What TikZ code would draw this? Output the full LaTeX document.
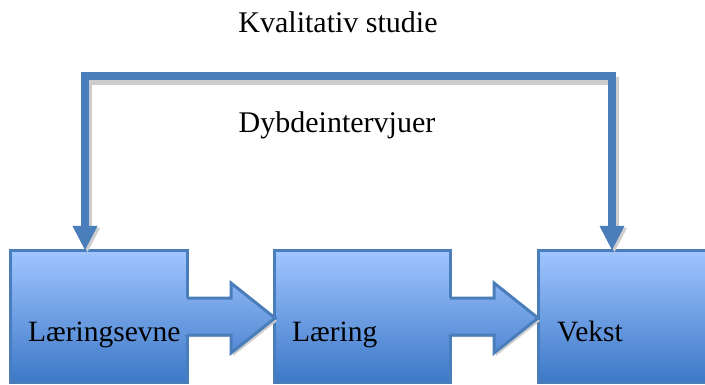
\documentclass[tikz,border=0pt]{standalone}
\usepackage{fontspec}
\setmainfont{Liberation Serif}
\definecolor{bordc}{RGB}{74,126,187}
\definecolor{ctop}{RGB}{160,197,255}
\definecolor{cbot}{RGB}{60,120,200}
\definecolor{shad}{RGB}{205,205,205}
\tikzset{
  boxfill/.style={top color=ctop, bottom color=cbot, draw=bordc, line width=3pt},
  arrfill/.style={top color=cbot!25!ctop, bottom color=cbot!77!ctop},
  arrline/.style={draw=bordc, line width=3pt, line join=miter},
  bar/.style={draw=bordc, line width=8pt},
  barshadow/.style={draw=shad, line width=8pt},
  headtri/.style={fill=bordc},
  lbl/.style={font=\fontsize{30}{36}\selectfont, inner sep=0pt},
  boxlbl/.style={font=\fontsize{29.5}{34}\selectfont, inner sep=0pt, anchor=base west},
}
\begin{document}
\begin{tikzpicture}[x=1pt,y=-1pt]
\useasboundingbox (0,0) rectangle (705,385);
\clip (0,0) rectangle (705,385);

% labels
\node[lbl] (kval) at (338,22) {Kvalitativ studie};
\node[lbl] (dyb) at (337,125) {Dybdeintervjuer};

% boxes
\path[boxfill] (10,251) rectangle (187,382);
\path[boxfill] (274,251) rectangle (450,382);
\path[boxfill] (538,251) rectangle (712,382);
\coordinate (b1top) at (85,250);
\coordinate (b3top) at (612,250);
\coordinate (b1head) at (85,226);
\coordinate (b3head) at (612,226);

% block arrow shadows
\fill[shad] (189,300) -- (233,300) -- (233,286) -- (277,321) -- (233,356) -- (233,337) -- (189,337) -- cycle;
\fill[shad] (452,300) -- (496,300) -- (496,286) -- (540,321) -- (496,356) -- (496,337) -- (452,337) -- cycle;

% block arrows
\fill[arrfill] (184,298) -- (231,298) -- (231,283) -- (275,318) -- (231,353) -- (231,335) -- (184,335) -- cycle;
\draw[arrline] (187,298) -- (231,298) -- (231,283) -- (275,318) -- (231,353) -- (231,335) -- (187,335);
\fill[arrfill] (447,298) -- (494,298) -- (494,283) -- (538,318) -- (494,353) -- (494,335) -- (447,335) -- cycle;
\draw[arrline] (450,298) -- (494,298) -- (494,283) -- (538,318) -- (494,353) -- (494,335) -- (450,335);

% box labels
\node[boxlbl] (l1) at (28,341) {Læringsevne};
\node[boxlbl] (l2) at (292,341) {Læring};
\node[boxlbl] (l3) at (557,341) {Vekst};

% top connector shadow
\draw[barshadow] (88,228) -- (88,81) -- (615,81) -- (615,228);
\fill[shad] (75,228) -- (100,228) -- (87.5,252) -- cycle;
\fill[shad] (602,228) -- (627,228) -- (614.5,252) -- cycle;

% top connector
\draw[bar] (b1head) -- (85,76) -- (612,76) -- (b3head);
\fill[headtri] (72.5,226) -- (97.5,226) -- (b1top) -- cycle;
\fill[headtri] (599.5,226) -- (624.5,226) -- (b3top) -- cycle;
\end{tikzpicture}
\end{document}
